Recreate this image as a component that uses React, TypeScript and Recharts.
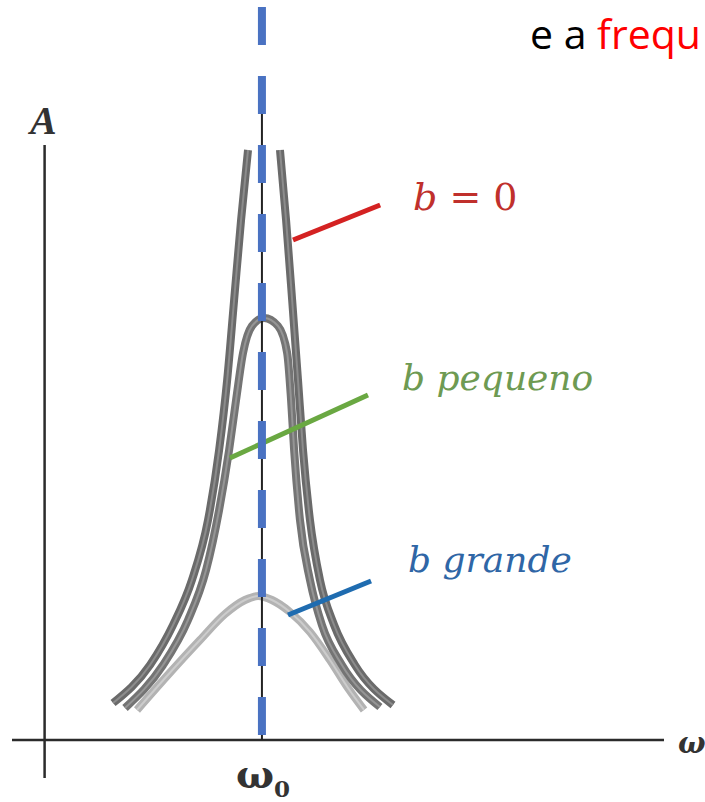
import React from "react";
import { LineChart, Line, XAxis, YAxis, ReferenceLine } from "recharts";

// Amplitude A against driving frequency ω (ω0 = 1)
const B_ZERO_LEFT = [
  { w: 0.315, A: 0.37 },
  { w: 0.485, A: 0.75 },
  { w: 0.591, A: 1.15 },
  { w: 0.678, A: 1.6 },
  { w: 0.752, A: 2.2 },
  { w: 0.803, A: 2.9 },
  { w: 0.84, A: 3.6 },
  { w: 0.872, A: 4.4 },
  { w: 0.904, A: 5.2 },
  { w: 0.936, A: 5.9 },
];

const B_ZERO_RIGHT = [
  { w: 1.083, A: 5.9 },
  { w: 1.111, A: 5.2 },
  { w: 1.139, A: 4.4 },
  { w: 1.166, A: 3.6 },
  { w: 1.189, A: 2.9 },
  { w: 1.221, A: 2.2 },
  { w: 1.267, A: 1.6 },
  { w: 1.332, A: 1.15 },
  { w: 1.428, A: 0.75 },
  { w: 1.603, A: 0.35 },
];

const B_SMALL = [
  { w: 0.37, A: 0.32 },
  { w: 0.545, A: 0.75 },
  { w: 0.66, A: 1.2 },
  { w: 0.743, A: 1.7 },
  { w: 0.803, A: 2.3 },
  { w: 0.849, A: 2.9 },
  { w: 0.881, A: 3.4 },
  { w: 0.913, A: 3.87 },
  { w: 0.954, A: 4.14 },
  { w: 1.01, A: 4.22 },
  { w: 1.074, A: 4.14 },
  { w: 1.116, A: 3.87 },
  { w: 1.134, A: 3.4 },
  { w: 1.148, A: 2.9 },
  { w: 1.175, A: 2.2 },
  { w: 1.221, A: 1.6 },
  { w: 1.276, A: 1.15 },
  { w: 1.368, A: 0.75 },
  { w: 1.543, A: 0.33 },
];

const B_LARGE = [
  { w: 0.425, A: 0.3 },
  { w: 0.563, A: 0.64 },
  { w: 0.715, A: 1.0 },
  { w: 0.83, A: 1.26 },
  { w: 0.922, A: 1.4 },
  { w: 0.982, A: 1.44 },
  { w: 1.046, A: 1.4 },
  { w: 1.129, A: 1.28 },
  { w: 1.221, A: 1.08 },
  { w: 1.313, A: 0.8 },
  { w: 1.396, A: 0.52 },
  { w: 1.47, A: 0.3 },
];

// leader lines from each curve to its label
const LEADER_ZERO = [
  { w: 1.143, A: 5.0 },
  { w: 1.544, A: 5.35 },
];
const LEADER_SMALL = [
  { w: 0.853, A: 2.82 },
  { w: 1.488, A: 3.45 },
];
const LEADER_LARGE = [
  { w: 1.12, A: 1.25 },
  { w: 1.502, A: 1.59 },
];

// resonance frequency marker
const OMEGA0_FULL = [
  { w: 1, A: 7.4 },
  { w: 1, A: 0 },
];
const OMEGA0_THIN = [
  { w: 1, A: 6.3 },
  { w: 1, A: 0 },
];

const W_DOMAIN = [-0.15, 2.85];
const A_DOMAIN = [-0.4, 7.4];

const curve = (data, color, core, key) => [
  <Line
    key={key + "-o"}
    data={data}
    dataKey="A"
    type="monotone"
    stroke={color}
    strokeWidth={8}
    dot={false}
    activeDot={false}
    isAnimationActive={false}
  />,
  <Line
    key={key + "-i"}
    data={data}
    dataKey="A"
    type="monotone"
    stroke={core}
    strokeWidth={2}
    dot={false}
    activeDot={false}
    isAnimationActive={false}
  />,
];

const leader = (data, color, key) => (
  <Line
    key={key}
    data={data}
    dataKey="A"
    type="linear"
    stroke={color}
    strokeWidth={5}
    dot={false}
    activeDot={false}
    isAnimationActive={false}
  />
);

const serif = "'DejaVu Serif', serif";

export default function App() {
  return (
    <div style={{ position: "absolute", left: 0, top: 0, background: "#fff" }}>
      <LineChart
        width={705}
        height={802}
        margin={{ top: 0, right: 41, bottom: 22, left: 12 }}
      >
        <XAxis dataKey="w" type="number" domain={W_DOMAIN} allowDataOverflow hide />
        <YAxis dataKey="A" type="number" domain={A_DOMAIN} allowDataOverflow hide />

        <ReferenceLine
          segment={[
            { x: -0.15, y: 0 },
            { x: 2.85, y: 0 },
          ]}
          stroke="#2b2b2b"
          strokeWidth={2.5}
        />
        <ReferenceLine
          segment={[
            { x: 0, y: 5.95 },
            { x: 0, y: -0.38 },
          ]}
          stroke="#2b2b2b"
          strokeWidth={2.5}
        />

        {curve(B_LARGE, "#b3b3b3", "#cccccc", "large")}
        {curve(B_SMALL, "#747474", "#959595", "small")}
        {curve(B_ZERO_LEFT, "#6a6a6a", "#8c8c8c", "zl")}
        {curve(B_ZERO_RIGHT, "#6a6a6a", "#8c8c8c", "zr")}

        {leader(LEADER_ZERO, "#d42222", "lz")}
        {leader(LEADER_SMALL, "#6aa842", "ls")}
        {leader(LEADER_LARGE, "#1f6cb0", "ll")}

        <Line
          data={OMEGA0_THIN}
          dataKey="A"
          type="linear"
          stroke="#222"
          strokeWidth={2}
          dot={false}
          activeDot={false}
          isAnimationActive={false}
        />
        <Line
          data={OMEGA0_FULL}
          dataKey="A"
          type="linear"
          stroke="#4a72c2"
          strokeWidth={8}
          strokeDasharray="38 31"
          strokeDashoffset={62}
          dot={false}
          activeDot={false}
          isAnimationActive={false}
        />

        <text x={30} y={134} fontFamily="'Liberation Serif', serif" fontStyle="italic" fontWeight="bold" fontSize={40} fill="#333">
          A
        </text>
        <text x={678} y={753} fontFamily={serif} fontStyle="italic" fontWeight="bold" fontSize={29} fill="#333">
          ω
        </text>
        <text x={236} y={788} fontFamily={serif} fontWeight="bold" fontSize={40} fill="#333">
          ω
          <tspan fontSize={23} dy={9}>
            0
          </tspan>
        </text>

        <text x={413} y={210} fontFamily={serif} fontSize={38} fill="#c0302c">
          <tspan fontStyle="italic">b</tspan>
          <tspan> = 0</tspan>
        </text>
        <text x={402} y={390} fontFamily={serif} fontStyle="italic" fontSize={36} fill="#6e9a52">
          b pequeno
        </text>
        <text x={408} y={572} fontFamily={serif} fontStyle="italic" fontSize={36} fill="#2f66a6">
          b grande
        </text>

        <text x={530} y={49} fontFamily="'Open Sans', sans-serif" fontSize={41} fill="#000">
          e a <tspan fill="#ff0000">frequ</tspan>
        </text>
      </LineChart>
    </div>
  );
}
